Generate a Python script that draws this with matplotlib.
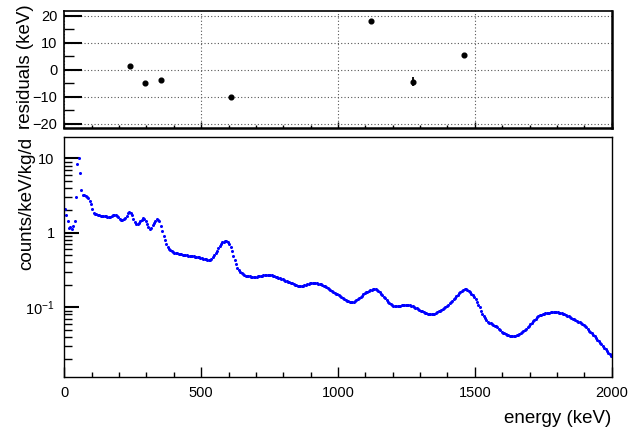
import numpy as np
import matplotlib
matplotlib.use("Agg")
import matplotlib.pyplot as plt
from matplotlib.ticker import MultipleLocator, FixedLocator, FixedFormatter, LogLocator, NullFormatter

plt.rcParams['font.family'] = ['Liberation Sans', 'DejaVu Sans']
plt.rcParams['mathtext.fontset'] = 'custom'
plt.rcParams['mathtext.rm'] = 'Liberation Sans'
plt.rcParams['mathtext.it'] = 'Liberation Sans:italic'

# ---------------- data ----------------
# residuals of calibration peaks
res_energy = [238.6, 295.2, 351.9, 609.3, 1120.3, 1274.5, 1460.8]
res_value = [1.2, -5.1, -3.8, -10.2, 18.1, -4.4, 5.4]
res_error = [0.5, 0.5, 0.5, 0.5, 0.5, 1.5, 0.5]

# spectrum, 5 keV bins from 0 to 2000 keV
bin_width = 5.0
spec_counts = [
    # 0-100
    2.1, 1.75, 1.45, 1.15, 1.2, 1.12, 1.25, 1.42, 3.0, 8.5, 10.2, 6.4, 3.75, 3.2, 3.2, 3.15, 3.05, 2.9, 2.7, 2.4,
    # 100-200
    2.1, 1.86, 1.8, 1.77, 1.74, 1.72, 1.7, 1.69, 1.68, 1.68, 1.66, 1.63, 1.61, 1.62, 1.67, 1.72, 1.75, 1.74, 1.7, 1.62,
    # 200-300
    1.55, 1.5, 1.48, 1.52, 1.6, 1.7, 1.82, 1.88, 1.86, 1.75, 1.55, 1.4, 1.32, 1.3, 1.34, 1.42, 1.5, 1.56, 1.52, 1.42,
    # 300-400
    1.3, 1.18, 1.13, 1.17, 1.27, 1.37, 1.46, 1.51, 1.5, 1.45, 1.25, 1.05, 0.9, 0.79, 0.7, 0.65, 0.61, 0.585, 0.565, 0.55,
    # 400-500
    0.54, 0.533, 0.527, 0.521, 0.516, 0.512, 0.508, 0.504, 0.5, 0.497, 0.494, 0.49, 0.487, 0.484, 0.481, 0.478, 0.474, 0.47, 0.467, 0.462,
    # 500-600
    0.456, 0.45, 0.444, 0.438, 0.432, 0.43, 0.435, 0.448, 0.47, 0.5, 0.535, 0.575, 0.62, 0.665, 0.71, 0.74, 0.758, 0.768, 0.765, 0.745,
    # 600-700
    0.7, 0.65, 0.57, 0.49, 0.43, 0.38, 0.34, 0.315, 0.298, 0.285, 0.276, 0.269, 0.265, 0.262, 0.26, 0.259, 0.258, 0.258, 0.257, 0.257,
    # 700-800
    0.258, 0.26, 0.262, 0.264, 0.266, 0.268, 0.269, 0.27, 0.271, 0.271, 0.27, 0.268, 0.265, 0.261, 0.257, 0.252, 0.248, 0.244, 0.24, 0.236,
    # 800-900
    0.232, 0.228, 0.224, 0.22, 0.216, 0.212, 0.208, 0.204, 0.2, 0.197, 0.194, 0.192, 0.192, 0.193, 0.195, 0.198, 0.201, 0.204, 0.206, 0.208,
    # 900-1000
    0.209, 0.21, 0.21, 0.21, 0.209, 0.207, 0.205, 0.202, 0.199, 0.195, 0.191, 0.187, 0.182, 0.177, 0.172, 0.167, 0.162, 0.157, 0.152, 0.148,
    # 1000-1100
    0.144, 0.14, 0.136, 0.132, 0.128, 0.125, 0.122, 0.12, 0.119, 0.118, 0.118, 0.119, 0.121, 0.124, 0.128, 0.133, 0.138, 0.143, 0.148, 0.153,
    # 1100-1200
    0.158, 0.162, 0.166, 0.169, 0.172, 0.173, 0.174, 0.173, 0.17, 0.165, 0.159, 0.152, 0.145, 0.138, 0.131, 0.125, 0.119, 0.114, 0.11, 0.107,
    # 1200-1300
    0.105, 0.104, 0.103, 0.103, 0.104, 0.105, 0.106, 0.107, 0.108, 0.108, 0.108, 0.107, 0.106, 0.104, 0.102, 0.1, 0.098, 0.096, 0.094, 0.092,
    # 1300-1400
    0.09, 0.088, 0.086, 0.084, 0.083, 0.082, 0.081, 0.0805, 0.0805, 0.081, 0.0815, 0.083, 0.085, 0.0875, 0.09, 0.092, 0.095, 0.097, 0.1, 0.104,
    # 1400-1500
    0.108, 0.112, 0.117, 0.122, 0.128, 0.134, 0.14, 0.147, 0.154, 0.161, 0.167, 0.171, 0.173, 0.173, 0.17, 0.165, 0.158, 0.152, 0.145, 0.136,
    # 1500-1600
    0.127, 0.118, 0.108, 0.099, 0.09, 0.082, 0.076, 0.071, 0.067, 0.064, 0.062, 0.061, 0.0595, 0.058, 0.0565, 0.055, 0.0535, 0.0515, 0.049, 0.047,
    # 1600-1700
    0.0455, 0.0443, 0.0432, 0.0423, 0.0416, 0.0411, 0.0408, 0.0407, 0.0408, 0.0412, 0.0419, 0.0428, 0.044, 0.0453, 0.0467, 0.0482, 0.0498, 0.0515, 0.0535, 0.0557,
    # 1700-1800
    0.0585, 0.0615, 0.0645, 0.0675, 0.0703, 0.073, 0.0755, 0.0775, 0.0793, 0.0807, 0.0818, 0.0826, 0.0833, 0.0839, 0.0845, 0.085, 0.0854, 0.0857, 0.0858, 0.0857,
    # 1800-1900
    0.0853, 0.0847, 0.0835, 0.0822, 0.081, 0.0797, 0.0783, 0.0768, 0.0752, 0.0735, 0.0718, 0.07, 0.0685, 0.067, 0.0655, 0.064, 0.0627, 0.0613, 0.0598, 0.058,
    # 1900-2000
    0.0558, 0.0533, 0.0508, 0.0485, 0.0462, 0.0448, 0.0425, 0.0405, 0.0385, 0.0366, 0.0348, 0.0332, 0.0316, 0.03, 0.0285, 0.0271, 0.0257, 0.0244, 0.0232, 0.0222,
]
spec_energy = np.arange(len(spec_counts)) * bin_width + bin_width / 2

res_yticks = [-20, -10, 0, 10, 20]
spec_yticks = [0.1, 1, 10]
spec_ytick_labels = [r'$10^{-1}$', '1', '10']
x_ticks = [0, 500, 1000, 1500, 2000]

# ---------------- figure ----------------
W, H = 630, 429
fig = plt.figure(figsize=(W / 100, H / 100), dpi=100)
fig.patch.set_facecolor('white')

def frac(l, t, r, b):
    return [l / W, 1 - b / H, (r - l) / W, (b - t) / H]

ax1 = fig.add_axes(frac(64.3, 11.0, 611.7, 128.3))
ax2 = fig.add_axes(frac(64.3, 137.3, 611.7, 377.2))

tick_fs = 10.5
label_fs = 13.5

# top panel: residuals
ax1.errorbar(res_energy, res_value, yerr=res_error, fmt='o', color='black',
             markersize=3.4, elinewidth=1.3, capsize=0, zorder=3)
ax1.set_xlim(0, 2000)
ax1.set_ylim(-21.7, 21.7)
ax1.xaxis.set_major_locator(MultipleLocator(500))
ax1.xaxis.set_minor_locator(MultipleLocator(100))
ax1.yaxis.set_major_locator(FixedLocator(res_yticks))
ax1.yaxis.set_minor_locator(MultipleLocator(5))
ax1.set_xticklabels([])
ax1.grid(True, which='major', color='#555555', linestyle=(0, (1, 2)), linewidth=0.8)
ax1.tick_params(axis='x', which='major', direction='in', length=4, width=1, top=False, bottom=True, labelbottom=False)
ax1.tick_params(axis='x', which='minor', direction='in', length=2, width=1, top=False)
ax1.tick_params(axis='y', which='major', direction='in', length=13, width=1.5, right=False,
                labelsize=tick_fs, pad=5)
ax1.tick_params(axis='y', which='minor', direction='in', length=7, width=1, right=False)
for s in ax1.spines.values():
    s.set_linewidth(1.2)
ax1.spines['bottom'].set_linewidth(1.8)
ax1.spines['right'].set_linewidth(1.8)

# bottom panel: spectrum
ax2.plot(spec_energy, spec_counts, linestyle='none', marker='o', markersize=2.2,
         markeredgewidth=0, color='#0000ff')
ax2.set_yscale('log')
ax2.set_xlim(0, 2000)
ax2.set_ylim(0.01143, 19.2)
ax2.xaxis.set_major_locator(FixedLocator(x_ticks))
ax2.xaxis.set_minor_locator(MultipleLocator(100))
ax2.yaxis.set_major_locator(FixedLocator(spec_yticks))
ax2.yaxis.set_major_formatter(FixedFormatter(spec_ytick_labels))
ax2.yaxis.set_minor_locator(LogLocator(base=10, subs=np.arange(2, 10)))
ax2.yaxis.set_minor_formatter(NullFormatter())
ax2.tick_params(axis='x', which='major', direction='in', length=7, width=1, top=False,
                labelsize=tick_fs, pad=6)
ax2.tick_params(axis='x', which='minor', direction='in', length=3.5, width=1, top=False)
ax2.tick_params(axis='y', which='major', direction='in', length=11, width=1.5, right=False,
                labelsize=tick_fs, pad=7)
ax2.tick_params(axis='y', which='minor', direction='in', length=5.5, width=1, right=False)
for s in ax2.spines.values():
    s.set_linewidth(1.0)

# axis titles
fig.text(611.7 / W, 1 - 418.5 / H, 'energy (keV)', ha='right', va='center', fontsize=label_fs)
fig.text(26.5 / W, 1 - 137.3 / H, 'counts/keV/kg/d', ha='center', va='top', rotation=90, fontsize=label_fs)
fig.text(25.5 / W, 1 - 67.0 / H, 'residuals (keV)', ha='center', va='center', rotation=90, fontsize=label_fs)

fig.savefig('out.png', dpi=100)
